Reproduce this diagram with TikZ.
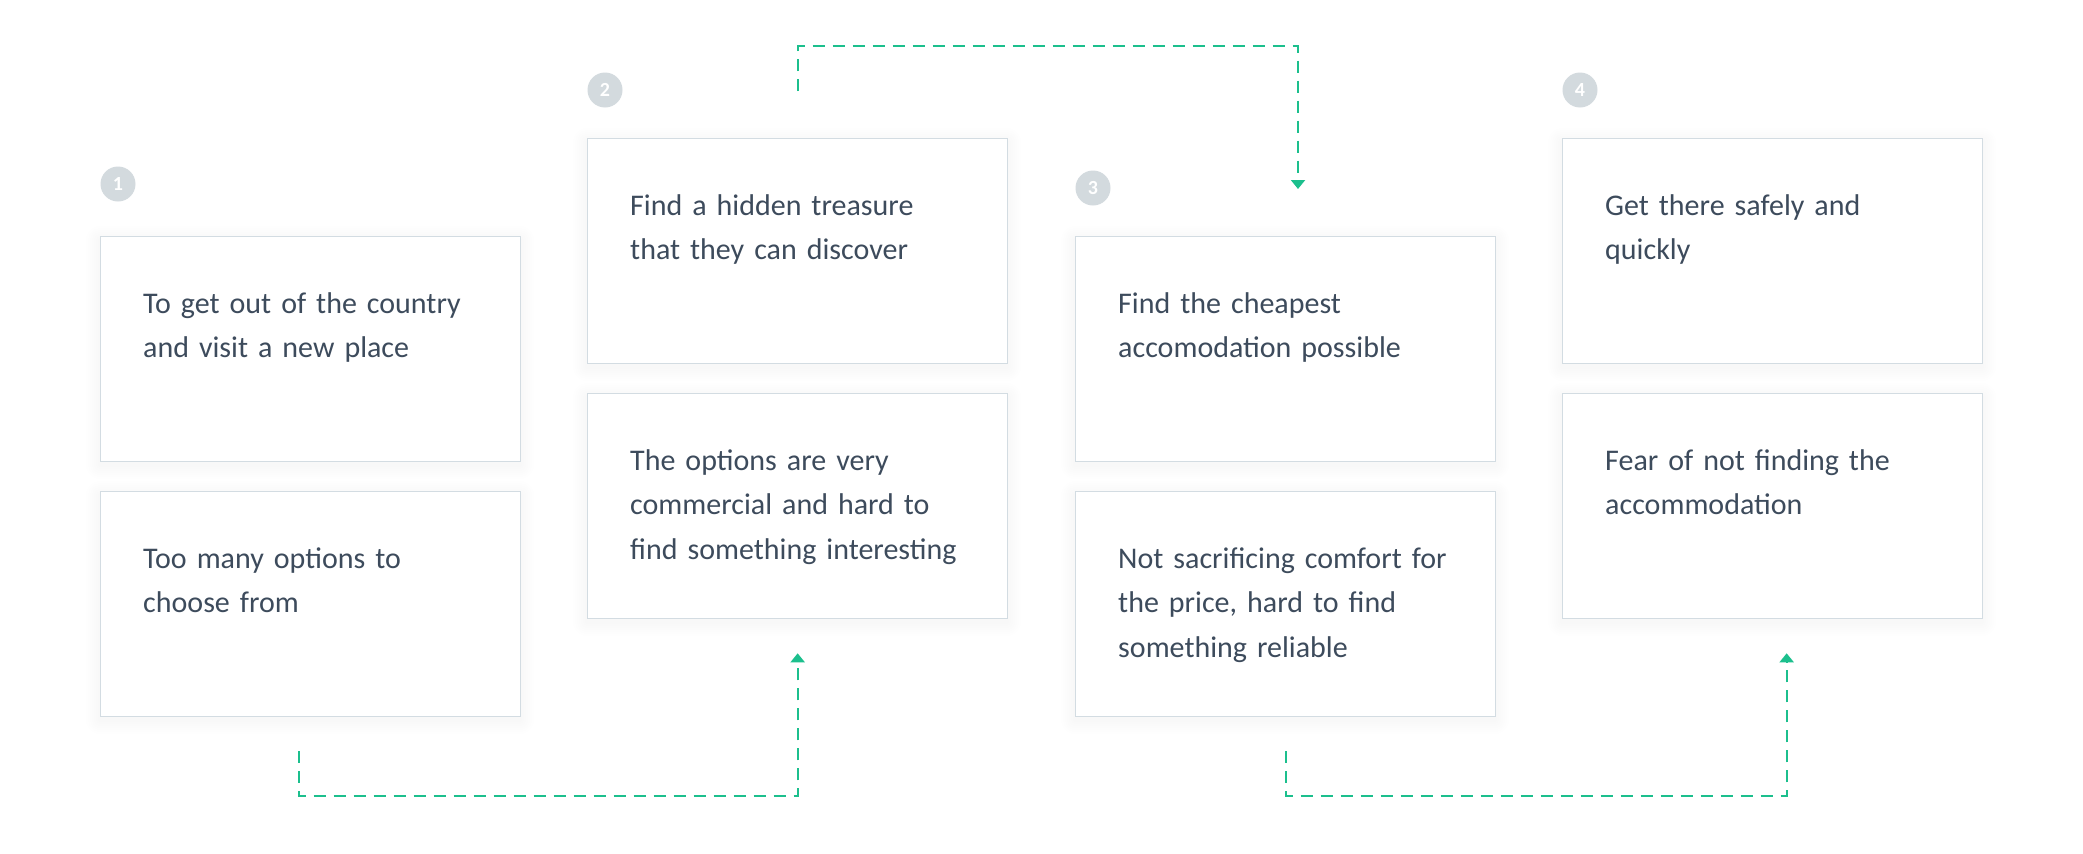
\documentclass[tikz,border=0pt]{standalone}
\usepackage{fontspec}
\setmainfont{Carlito}
\usetikzlibrary{calc,arrows.meta}

\definecolor{inkText}{HTML}{3D4B5C}
\definecolor{boxLine}{HTML}{D3DCE2}
\definecolor{badgeFill}{HTML}{D3DADE}
\definecolor{flowGreen}{HTML}{1CBF8D}

\tikzset{
  card/.style={draw=boxLine, line width=1.3pt, fill=white, rectangle,
    minimum width=420pt, minimum height=225pt, inner sep=0pt, anchor=north west},
  cardtext/.style={anchor=base west, inner sep=0pt, align=left, text width=370pt,
    text=inkText, font=\fontsize{30}{44.5}\selectfont},
  badge/.style={circle, fill=badgeFill, minimum size=35pt, inner sep=0pt,
    text=white, font=\bfseries\fontsize{20}{20}\selectfont},
  flow/.style={draw=flowGreen, line width=2pt, dash pattern=on 12pt off 8pt,
    -{Triangle[width=14pt,length=9pt]}},
}

% a card with a soft drop shadow: name, left, top
\newcommand{\cardat}[3]{%
  \foreach \r in {2,4,...,14} {
    \fill[black, opacity=0.005, rounded corners=\r pt]
      ($(#2,#3)+(-\r,-\r+4)$) rectangle ($(#2,#3)+(420+\r,225+\r+4)$);
  }
  \node[card] (#1) at (#2,#3) {};
}

\begin{document}
\begin{tikzpicture}[x=1pt,y=-1pt]
  \fill[white] (0,0) rectangle (2083,854);
  \useasboundingbox (0,0) rectangle (2083,854);

  % column 1
  \cardat{b1a}{100}{236}
  \cardat{b1b}{100}{491}
  % column 2
  \cardat{b2a}{587}{138}
  \cardat{b2b}{587}{393}
  % column 3
  \cardat{b3a}{1075}{236}
  \cardat{b3b}{1075}{491}
  % column 4
  \cardat{b4a}{1562}{138}
  \cardat{b4b}{1562}{393}

  % step badges
  \node[badge] (c1) at ($(b1a.north west)+(18,-52)$) {1};
  \node[badge] (c2) at ($(b2a.north west)+(18,-48)$) {2};
  \node[badge] (c3) at ($(b3a.north west)+(18,-48)$) {3};
  \node[badge] (c4) at ($(b4a.north west)+(18,-48)$) {4};

  % card texts
  \node[cardtext] (t1a) at ($(b1a.north west)+(43,77)$) {To get out of the country\\and visit a new place};
  \node[cardtext] (t1b) at ($(b1b.north west)+(43,77)$) {Too many options to\\choose from};
  \node[cardtext] (t2a) at ($(b2a.north west)+(43,77)$) {Find a hidden treasure\\that they can discover};
  \node[cardtext] (t2b) at ($(b2b.north west)+(43,77)$) {The options are very\\commercial and hard to\\find something interesting};
  \node[cardtext] (t3a) at ($(b3a.north west)+(43,77)$) {Find the cheapest\\accomodation possible};
  \node[cardtext] (t3b) at ($(b3b.north west)+(43,77)$) {Not sacrificing comfort for\\the price, hard to find\\something reliable};
  \node[cardtext] (t4a) at ($(b4a.north west)+(43,77)$) {Get there safely and\\quickly};
  \node[cardtext] (t4b) at ($(b4b.north west)+(43,77)$) {Fear of not finding the\\accommodation};

  % connector: column 1 -> column 2 (below)
  \coordinate (s1) at ($(b1b.south)+(-12,34)$);
  \coordinate (k1) at ($(b1b.south)+(-12,79)$);
  \coordinate (e1) at ($(b2b.south)+(0,34)$);
  \draw[flow] (s1) -- (k1) -| (e1);

  % connector: column 2 -> column 3 (above)
  \coordinate (s2) at ($(b2a.north)+(0,-47)$);
  \coordinate (k2) at ($(b2a.north)+(0,-92)$);
  \coordinate (e2) at ($(b3a.north west)+(223,-47)$);
  \draw[flow] (s2) -- (k2) -| (e2);

  % connector: column 3 -> column 4 (below)
  \coordinate (s3) at ($(b3b.south)+(0,34)$);
  \coordinate (k3) at ($(b3b.south)+(0,79)$);
  \coordinate (e3) at ($(b4b.south)+(14,34)$);
  \draw[flow] (s3) -- (k3) -| (e3);
\end{tikzpicture}
\end{document}
